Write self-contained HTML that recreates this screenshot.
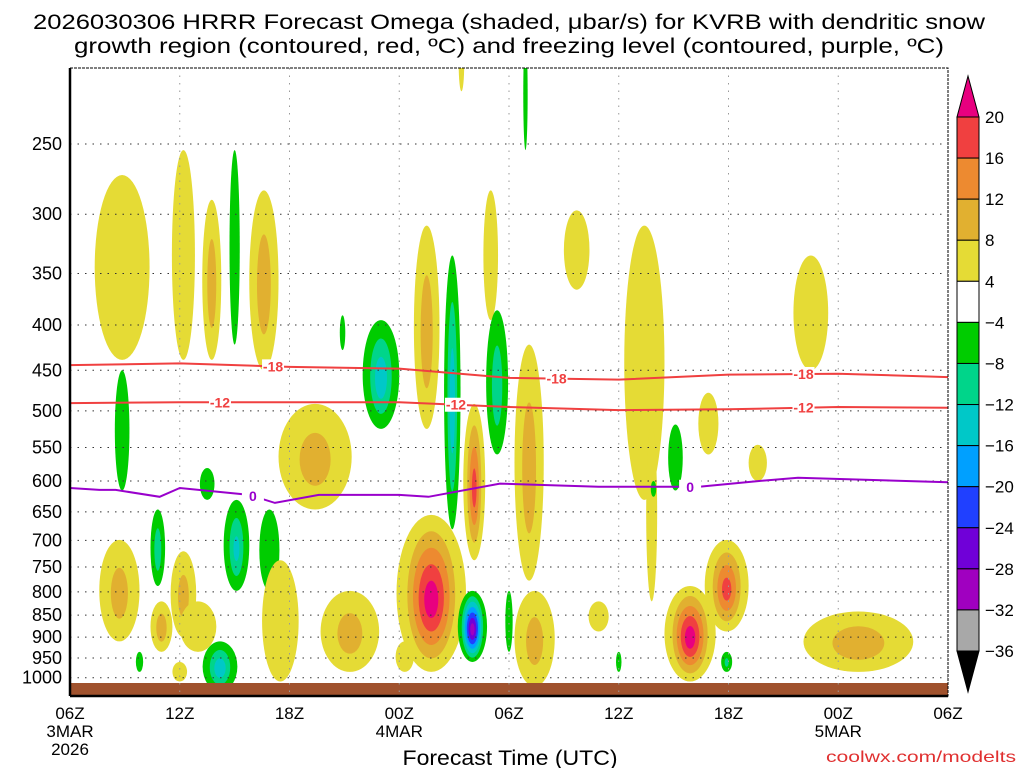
<!DOCTYPE html>
<html><head><meta charset="utf-8"><style>
body{margin:0;background:#fff;width:1024px;height:768px;overflow:hidden;font-family:"Liberation Sans",sans-serif}
svg text{font-family:"Liberation Sans",sans-serif}
</style></head><body>
<svg id="c" width="1024" height="768">
<text x="509" y="29" text-anchor="middle" font-size="21" textLength="952" lengthAdjust="spacingAndGlyphs">2026030306 HRRR Forecast Omega (shaded, μbar/s) for KVRB with dendritic snow</text>
<text x="509" y="53" text-anchor="middle" font-size="21" textLength="870" lengthAdjust="spacingAndGlyphs">growth region (contoured, red, ºC) and freezing level (contoured, purple, ºC)</text>
<defs><clipPath id="pc"><rect x="70" y="68" width="878" height="628"/></clipPath></defs>
<g id="field" clip-path="url(#pc)"></g>
<g id="grid"></g>
<g id="lines" clip-path="url(#pc)"></g>
<g id="axes"></g>
<g id="cbar"></g>
<text x="510" y="765" text-anchor="middle" font-size="21" textLength="215" lengthAdjust="spacingAndGlyphs">Forecast Time (UTC)</text>
<text x="1016" y="762" text-anchor="end" font-size="16" fill="#e03030" textLength="190" lengthAdjust="spacingAndGlyphs">coolwx.com/modelts</text>
</svg>
<script>
// blobs: hour, pTop, pBot, halfWidth(h), peak omega
const blobHour=[2.85,6.2,7.75,10.6,9.0,2.85,13.4,14.9,17.0,19.5,20.9,22.1,23.0,23.35,25.1,24.9,21.4,27.7,31.4,31.8,33.1,34.9,37.6,40.5,7.5,2.7,4.8,5.0,6.2,7.0,9.1,10.9,8.2,11.5,15.3,19.75,22.0,24.0,25.4,28.9,33.9,35.9,35.9,43.1,3.8,6.0,18.3,30.0,31.9];
const blobTop=[271,254,289,282,254,450,491,390,395,309,334,491,282,385,421,190,190,297,309,518,518,477,546,334,580,699,646,820,720,820,630,646,910,737,798,655,798,798,798,820,788,699,935,842,935,960,910,935,600];
const blobBot=[438,438,438,450,421,615,646,427,524,524,680,737,395,560,777,254,218,365,630,820,615,560,600,450,630,910,788,935,900,935,798,798,1037,1010,985,985,960,935,1023,887,1010,887,985,985,985,1010,985,985,625];
const blobWidth=[1.5,0.63,0.52,0.8,0.28,0.4,2.0,0.15,1.0,0.7,0.45,0.6,0.4,0.6,0.8,0.12,0.15,0.7,1.1,0.3,0.4,0.55,0.5,0.95,0.4,1.1,0.4,0.6,0.7,1.0,0.7,0.55,0.95,1.0,1.6,1.9,0.8,0.2,1.1,0.55,1.4,1.2,0.3,3.0,0.2,0.4,0.5,0.15,0.15];
const blobPeak=[6,6,10,10,-6,-6,9,-6,-14,10,-14,17,6,-10,10,-6,6,6,6,6,-6,6,6,6,-6,9,-10,10,9,6,-12,-6,-14,6,9,22,-30,-6,9,6,22,17,-8,10,-6,6,6,-6,-6];
// contour lines
const lineHours=[0,6,12,18,24,30,36,42,48];
const t18=[444,442,446,448,459,461,455,454,458];
const t12=[490,489,489,489,495,499,498,495,496];
const fzHours=[0,1.6,2.5,4.9,6,9.8,11.2,13.6,18,19.6,23.5,28.9,34.4,37.6,39.8,48];
const fzP=[611,614,614,625,611,622,635,622,622,625,604,609,609,600,595,602];
const yTicks=[250,300,350,400,450,500,550,600,650,700,750,800,850,900,950,1000];
const xTickHours=[0,6,12,18,24,30,36,42,48];
const xTickLabels=["06Z","12Z","18Z","00Z","06Z","12Z","18Z","00Z","06Z"];
const cbLevels=[20,16,12,8,4,-4,-8,-12,-16,-20,-24,-28,-32,-36];
const posColors=["#e5db35","#e1b030","#ed8a30","#f04040","#e8007f"];
const negColors=["#00cc00","#00d58a","#00c8c8","#00a0ff","#2040ff","#7000d8","#a000c0","#a8a8a8","#000000"];
const NS="http://www.w3.org/2000/svg";
const X=h=>70+h*(878/48);
const Y=p=>144+385*Math.log(p/250);
function mk(tag,attrs,parent){const e=document.createElementNS(NS,tag);for(const k in attrs)e.setAttribute(k,attrs[k]);parent.appendChild(e);return e;}
const field=document.getElementById('field');
blobHour.forEach((h,i)=>{
  const v=blobPeak[i],a=Math.abs(v);
  const cx=X(h),y1=Y(blobTop[i]),y2=Y(blobBot[i]);
  const cy=(y1+y2)/2,rx=blobWidth[i]*878/48,ry=(y2-y1)/2;
  const cols=v>0?posColors:negColors;
  for(let k=0;k<cols.length;k++){
    const lev=4+4*k; if(lev>a)break;
    const s=1-(lev-4)/(a-4+3);
    const e=mk('ellipse',{cx:cx,cy:cy+(1-s)*ry*0.1,rx:rx*s*(k?0.85:1),ry:ry*s,fill:cols[k]},field);
    
    
  }
});
const g=mk('rect',{x:70,y:683,width:878,height:13,fill:"#a0522d"},field);


const grid=document.getElementById('grid'),axes=document.getElementById('axes');
yTicks.forEach(p=>{
  mk('line',{x1:70,x2:948,y1:Y(p),y2:Y(p),stroke:"#333","stroke-dasharray":"1.5,6"},grid);
  const t=mk('text',{x:62,y:Y(p)+6,"text-anchor":"end","font-size":18},axes);t.textContent=p;
  
  
});
xTickHours.forEach((h,i)=>{
  if(i>0&&i<8)mk('line',{x1:X(h),x2:X(h),y1:68,y2:696,stroke:"#999","stroke-dasharray":"1.5,6"},grid);
  const t=mk('text',{x:X(h),y:719,"text-anchor":"middle","font-size":17},axes);t.textContent=xTickLabels[i];
  
  
});
[[X(0),737,"3MAR"],[X(0),755,"2026"],[X(18),737,"4MAR"],[X(42),737,"5MAR"]].forEach(d=>{
  const t=mk('text',{x:d[0],y:d[1],"text-anchor":"middle","font-size":17},axes);t.textContent=d[2];
  
  
});
mk('rect',{x:70,y:68,width:878,height:628,fill:"none",stroke:"#000","stroke-width":1,"stroke-dasharray":"3,1"},axes);
mk('line',{x1:70,x2:70,y1:68,y2:696,stroke:"#000","stroke-width":2.5},axes);
mk('line',{x1:70,x2:948,y1:696,y2:696,stroke:"#000","stroke-width":2.5},axes);
const lines=document.getElementById('lines');
function poly(hs,ps,col,name,labs,lab){
  const d=hs.map((h,i)=>(i?'L':'M')+X(h).toFixed(1)+','+Y(ps[i]).toFixed(1)).join('');
  const p=mk('path',{d:d,fill:"none",stroke:col,"stroke-width":2},lines);
  
  
  labs.forEach(h=>{
    let j=0;while(j<hs.length-2&&hs[j+1]<h)j++;
    const f=(h-hs[j])/(hs[j+1]-hs[j]);const pp=ps[j]+f*(ps[j+1]-ps[j]);
    mk('rect',{x:X(h)-11,y:Y(pp)-7,width:22,height:14,fill:"#fff"},lines);
    const t=mk('text',{x:X(h),y:Y(pp)+5,"text-anchor":"middle","font-size":14,"font-weight":"bold",fill:col},lines);t.textContent=lab;
    
    
  });
}
poly(lineHours,t18,"#f04040","contour-minus18",[11.1,26.6,40.1],"-18");
poly(lineHours,t12,"#f04040","contour-minus12",[8.2,21.1,40.1],"-12");
poly(fzHours,fzP,"#9900cc","freezing-level",[10,33.9],"0");
const cb=document.getElementById('cbar');
const cbY=l=>{const i=cbLevels.indexOf(l);return 117+i*(651-117)/13;};
const cbCols=["#f04040","#ed8a30","#e1b030","#e5db35","#ffffff"].concat(negColors.slice(0,8));
for(let i=0;i<13;i++){
  const r=mk('rect',{x:957,y:cbY(cbLevels[i]),width:22,height:(651-117)/13,fill:cbCols[i],stroke:"#000","stroke-width":1},cb);
  
  
}
mk('polygon',{points:"957,117 979,117 968,76",fill:"#e8007f",stroke:"#000"},cb);
mk('polygon',{points:"957,651 979,651 968,692",fill:"#000",stroke:"#000"},cb);
cbLevels.forEach(l=>{
  const t=mk('text',{x:985,y:cbY(l)+6,"font-size":17},cb);t.textContent=l<0?'−'+(-l):l;
  
  
});
</script>
</body></html>
